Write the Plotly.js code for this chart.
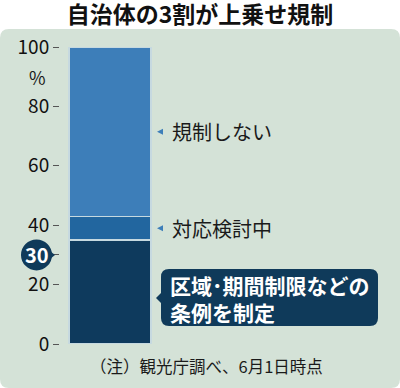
<!DOCTYPE html>
<html><head><meta charset="utf-8">
<script src="https://cdn.plot.ly/plotly-3.0.1.min.js"></script>
<style>html,body{margin:0;padding:0;background:#fff;}#c{width:400px;height:388px;}</style>
</head><body><div id="c"></div>
<script>
// ---- data ----
const category = ['自治体'];
const seriesNames = ['区域･期間制限などの条例を制定', '対応検討中', '規制しない'];
const valEnacted = [35];
const valConsider = [8];
const valNone = [57];
const highlightValue = 30;
const tickVals = [0, 20, 30, 40, 60, 80, 100];
const tickText = ['0', '20', '', '40', '60', '80', '100'];
const titleText = '自治体の3割が上乗せ規制';
const noteText = '（注）観光庁調べ、6月1日時点';

// ---- geometry helpers (pixel -> paper) ----
const W = 400, H = 388, L = 60, R = 0, T = 47, B = 44;
const PW = W - L - R, PH = H - T - B;
const px = x => (x - L) / PW;
const py = y => (H - B - y) / PH;
function rr(x0, y0, x1, y1, r) {
  const P = (x, y) => px(x).toFixed(5) + ',' + py(y).toFixed(5);
  return 'M' + P(x0 + r, y0) + ' L' + P(x1 - r, y0) + ' Q' + P(x1, y0) + ' ' + P(x1, y0 + r) +
    ' L' + P(x1, y1 - r) + ' Q' + P(x1, y1) + ' ' + P(x1 - r, y1) +
    ' L' + P(x0 + r, y1) + ' Q' + P(x0, y1) + ' ' + P(x0, y1 - r) +
    ' L' + P(x0, y0 + r) + ' Q' + P(x0, y0) + ' ' + P(x0 + r, y0) + ' Z';
}
function tri(pts) {
  return 'M' + pts.map(p => px(p[0]).toFixed(5) + ',' + py(p[1]).toFixed(5)).join(' L') + ' Z';
}

const FONT = '"Noto Sans CJK JP", "Noto Sans", sans-serif';
const NAVY = '#0f3a5a';
const BAR_PX = 82, BAR_CENTER = 110;
const unit = PW / BAR_PX;
const x0 = -(BAR_CENTER - L) / BAR_PX;
const xs = [0];

const sep = {color: '#c6d9e0', width: 1.5};
const traces = [
  {type: 'bar', x: xs, y: valEnacted, name: seriesNames[0], width: 1, marker: {color: '#0e3a5d', line: sep}},
  {type: 'bar', x: xs, y: valConsider, name: seriesNames[1], width: 1, marker: {color: '#22669f', line: sep}},
  {type: 'bar', x: xs, y: valNone, name: seriesNames[2], width: 1, marker: {color: '#3d7eb9', line: sep}}
];

const midNone = valEnacted[0] + valConsider[0] + valNone[0] * 0.5;
const midConsider = valEnacted[0] + valConsider[0] * 0.5;
const hlPx = H - B - highlightValue * PH / 100;

const shapes = [
  {type: 'path', xref: 'paper', yref: 'paper', layer: 'below', path: rr(0, 29, 400, 388, 9),
   fillcolor: '#d4e2d7', line: {width: 0}},
  {type: 'path', xref: 'paper', yref: 'paper', path: rr(161, 269, 378, 326, 8), fillcolor: NAVY, line: {width: 0}},
  {type: 'path', xref: 'paper', yref: 'paper', path: tri([[156, 298], [162, 292], [162, 304]]), fillcolor: NAVY, line: {width: 0}},
  {type: 'circle', xref: 'paper', yref: 'paper', x0: px(21), x1: px(52), y0: py(hlPx + 15.5), y1: py(hlPx - 15.5),
   fillcolor: NAVY, line: {width: 0}},
  {type: 'path', xref: 'paper', yref: 'paper', path: tri([[55, hlPx], [50, hlPx - 4], [50, hlPx + 4]]),
   fillcolor: NAVY, line: {width: 0}}
];
[midNone, midConsider].forEach(v => {
  const yy = H - B - v * PH / 100;
  shapes.push({type: 'path', xref: 'paper', yref: 'paper', path: tri([[157, yy], [163, yy - 3], [163, yy + 3]]),
    fillcolor: '#3d7eb9', line: {width: 0}});
});

const annotations = [
  {xref: 'paper', yref: 'y', x: px(170), y: midNone, xanchor: 'left', yanchor: 'middle', showarrow: false,
   text: seriesNames[2], font: {family: FONT, size: 20, color: '#1a1a1a'}},
  {xref: 'paper', yref: 'y', x: px(170), y: midConsider, xanchor: 'left', yanchor: 'middle', showarrow: false,
   text: seriesNames[1], font: {family: FONT, size: 20, color: '#1a1a1a'}},
  {xref: 'paper', yref: 'paper', x: px(168), y: py(298), xanchor: 'left', yanchor: 'middle', showarrow: false, align: 'left',
   text: '<b>区域･期間制限などの<br>条例を制定</b>', font: {family: FONT, size: 21, color: '#ffffff'}},
  {xref: 'paper', yref: 'paper', x: px(36.5), y: py(hlPx), xanchor: 'center', yanchor: 'middle', showarrow: false,
   text: '<b>' + highlightValue + '</b>', font: {family: FONT, size: 20, color: '#ffffff'}},
  {xref: 'paper', yref: 'paper', x: px(37), y: py(77), xanchor: 'center', yanchor: 'middle', showarrow: false,
   text: '%', font: {family: FONT, size: 18, color: '#1a1a1a'}},
  {xref: 'paper', yref: 'paper', x: px(88), y: py(366), xanchor: 'left', yanchor: 'middle', showarrow: false,
   text: noteText, font: {family: FONT, size: 16.5, color: '#1a1a1a'}}
];

const layout = {
  width: W, height: H,
  margin: {l: L, r: R, t: T, b: B, pad: 0},
  paper_bgcolor: '#ffffff', plot_bgcolor: 'rgba(0,0,0,0)',
  barmode: 'stack', showlegend: false,
  title: {text: '<b>' + titleText + '</b>', x: 0.5, xref: 'container', xanchor: 'center', y: 1 - 15 / H, yref: 'container', yanchor: 'middle',
    font: {family: FONT, size: 23, color: '#111'}},
  xaxis: {visible: false, range: [x0, x0 + unit], fixedrange: true},
  yaxis: {range: [0, 100], showgrid: false, zeroline: false, showline: false, ticks: 'outside', ticklen: 6, tickwidth: 1,
    tickcolor: '#555', tickvals: tickVals, ticktext: tickText, tickfont: {family: FONT, size: 19, color: '#111'}, fixedrange: true},
  shapes: shapes, annotations: annotations,
  font: {family: FONT}
};
Plotly.newPlot('c', traces, layout, {staticPlot: true, displayModeBar: false});
</script></body></html>
